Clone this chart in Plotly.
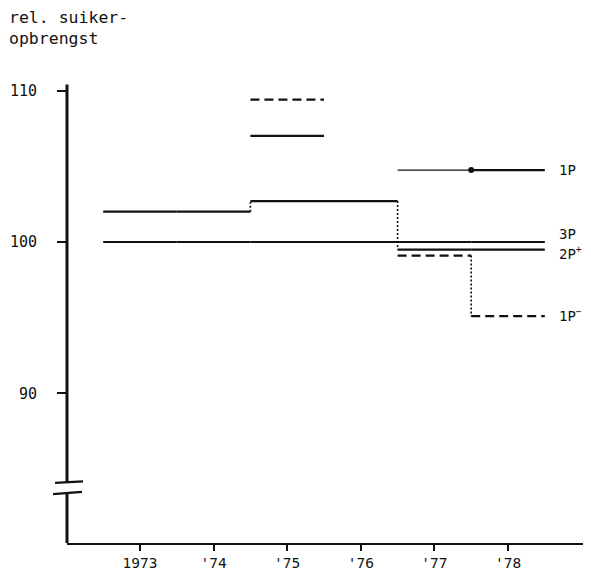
import plotly.graph_objects as go

# ---- data ----
years = [1973, 1974, 1975, 1976, 1977, 1978]
tick_labels = ["1973", "'74", "'75", "'76", "'77", "'78"]
p3 = [100.0, 100.0, 100.0, 100.0, 100.0, 100.0]
p2plus = [102.0, 102.0, 102.7, 102.7, 99.5, 99.5]
p1min = [None, None, 109.4, None, 99.1, 95.1]
p1 = [None, None, 107.0, None, 104.75, 104.75]
y_ticks = [90, 100, 110]
y_tick_labels = ["90", "100", "110"]

FONT = "DejaVu Sans Mono"
INK = "#111111"

# page body has an 8px margin; figure is sized/offset to compensate
OFF = 8
W, H = 591 - OFF, 572 - OFF
L, R, T, B = 67 - OFF, 1, 0, 29
PW = W - L - R
PH = H - T - B

XR = [1972.008, 1979.114]
YR = [80.13, 100 + (242 - OFF) / 15.15]


def steps(vals, only=None):
    xs, ys = [], []
    for i, (yr, v) in enumerate(zip(years, vals)):
        if v is None or (only is not None and i not in only):
            continue
        xs += [yr - 0.5, yr + 0.5, None]
        ys += [v, v, None]
    return xs, ys


def risers(vals):
    xs, ys = [], []
    for i in range(len(vals) - 1):
        a, b = vals[i], vals[i + 1]
        if a is not None and b is not None and a != b:
            x = years[i] + 0.5
            xs += [x, x, None]
            ys += [a, b, None]
    return xs, ys


fig = go.Figure()

# 3P baseline
x, y = steps(p3)
fig.add_trace(go.Scatter(x=x, y=y, mode="lines", line=dict(color=INK, width=2), hoverinfo="skip"))

# 2P+
x, y = steps(p2plus)
fig.add_trace(go.Scatter(x=x, y=y, mode="lines", line=dict(color=INK, width=2.2), hoverinfo="skip"))
x, y = risers(p2plus)
fig.add_trace(go.Scatter(x=x, y=y, mode="lines", line=dict(color=INK, width=1.6, dash="2px,2px"), hoverinfo="skip"))

# 1P-
x, y = steps(p1min)
fig.add_trace(go.Scatter(x=x, y=y, mode="lines", line=dict(color=INK, width=2.2, dash="9px,5px"), hoverinfo="skip"))
x, y = risers(p1min)
fig.add_trace(go.Scatter(x=x, y=y, mode="lines", line=dict(color=INK, width=1.6, dash="2px,2px"), hoverinfo="skip"))

# 1P
x, y = steps(p1, only=[2, 5])
fig.add_trace(go.Scatter(x=x, y=y, mode="lines", line=dict(color=INK, width=2.2), hoverinfo="skip"))
x, y = steps(p1, only=[4])
fig.add_trace(go.Scatter(x=x, y=y, mode="lines", line=dict(color=INK, width=1.3), hoverinfo="skip"))
fig.add_trace(go.Scatter(x=[years[4] + 0.5], y=[p1[4]], mode="markers",
                         marker=dict(color=INK, size=6), hoverinfo="skip"))


# ---- axis line with break (paper coords) ----
def py(v):
    return (v - YR[0]) / (YR[1] - YR[0])


def px(target_px):
    # target_px: horizontal pixel in the screenshot
    return (target_px - OFF - L) / PW


def pyp(target_px):
    return 1 - (target_px - OFF - T) / PH


shapes = [
    dict(type="line", xref="paper", yref="paper", x0=0, x1=0, y0=py(110.4), y1=py(84.16),
         line=dict(color=INK, width=3)),
    dict(type="line", xref="paper", yref="paper", x0=0, x1=0, y0=py(83.43), y1=0,
         line=dict(color=INK, width=3)),
    dict(type="line", xref="paper", yref="paper", x0=px(55), x1=px(83), y0=py(84.1), y1=py(84.2),
         line=dict(color=INK, width=2.2)),
    dict(type="line", xref="paper", yref="paper", x0=px(53), x1=px(82), y0=py(83.35), y1=py(83.5),
         line=dict(color=INK, width=2.2)),
]

LBL = dict(family=FONT, size=14, color=INK)
LX = 1978.67
annotations = [
    dict(text="rel. suiker-<br>opbrengst", xref="paper", yref="paper", x=px(7), y=pyp(6),
         xanchor="left", yanchor="top", align="left", showarrow=False,
         font=dict(family=FONT, size=16.5, color=INK)),
    dict(text="1P", x=LX, y=p1[5], xanchor="left", yanchor="middle", showarrow=False, font=LBL),
    dict(text="3P", x=LX, y=100.5, xanchor="left", yanchor="middle", showarrow=False, font=LBL),
    dict(text="2P<sup>+</sup>", x=LX, y=99.3, xanchor="left", yanchor="middle", showarrow=False, font=LBL),
    dict(text="1P<sup>−</sup>", x=LX, y=p1min[5] + 0.1, xanchor="left", yanchor="middle",
         showarrow=False, font=LBL),
]

fig.update_layout(
    width=W, height=H,
    margin=dict(l=L, r=R, t=T, b=B, autoexpand=False),
    paper_bgcolor="white", plot_bgcolor="white",
    showlegend=False,
    shapes=shapes,
    annotations=annotations,
    xaxis=dict(range=XR, showgrid=False, zeroline=False, showline=True, linecolor=INK, linewidth=2,
               ticks="outside", ticklen=6, tickwidth=2, tickcolor=INK,
               tickvals=years, ticktext=tick_labels, automargin=False,
               tickfont=dict(family=FONT, size=14.5, color=INK)),
    yaxis=dict(range=YR, showgrid=False, zeroline=False, showline=False,
               ticks="outside", ticklen=9, tickwidth=2, tickcolor=INK,
               tickvals=y_ticks, ticktext=y_tick_labels, ticklabelstandoff=17, automargin=False,
               tickfont=dict(family=FONT, size=15, color=INK)),
)

fig.write_html("out.html")
